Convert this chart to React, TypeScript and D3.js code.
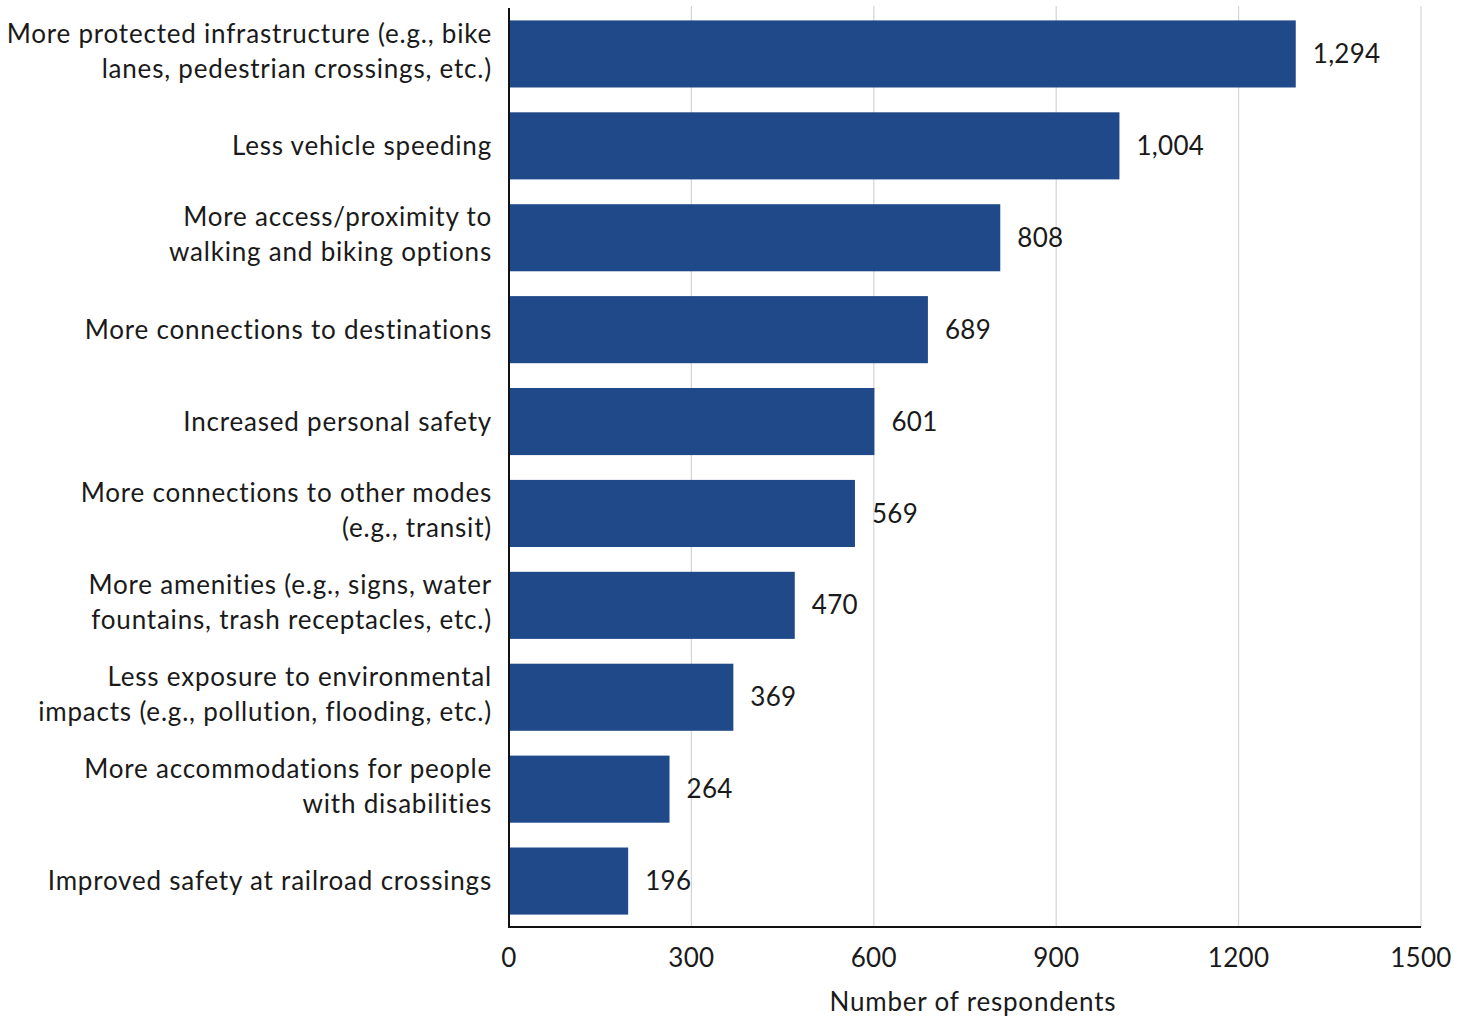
import React, { useEffect, useRef } from 'react';
import * as d3 from 'd3';

// label lines as they wrap in the original
const categories = [
  ['More protected infrastructure (e.g., bike', 'lanes, pedestrian crossings, etc.)'],
  ['Less vehicle speeding'],
  ['More access/proximity to', 'walking and biking options'],
  ['More connections to destinations'],
  ['Increased personal safety'],
  ['More connections to other modes', '(e.g., transit)'],
  ['More amenities (e.g., signs, water', 'fountains, trash receptacles, etc.)'],
  ['Less exposure to environmental', 'impacts (e.g., pollution, flooding, etc.)'],
  ['More accommodations for people', 'with disabilities'],
  ['Improved safety at railroad crossings'],
];
const values = [1294, 1004, 808, 689, 601, 569, 470, 369, 264, 196];
const xTicks = [0, 300, 600, 900, 1200, 1500];
const xTitle = 'Number of respondents';

const App = () => {
  const ref = useRef(null);

  useEffect(() => {
    const svg = d3.select(ref.current);
    svg.selectAll('*').remove();

    const W = 1465, H = 1019;
    const left = 509, right = 1421, top = 8, bottom = 927;
    const font = 'Lato, "Open Sans", sans-serif';
    const fs = 26;
    const ls = '0.8px';

    svg.attr('width', W).attr('height', H);

    const x = d3.scaleLinear().domain([0, 1500]).range([left, right]);
    const y = d3.scaleBand<number>()
      .domain(d3.range(values.length))
      .range([top, bottom])
      .paddingInner(0.27)
      .paddingOuter(0.135);

    // gridlines
    svg.append('g')
      .selectAll('line')
      .data(xTicks.filter(t => t > 0))
      .enter().append('line')
      .attr('x1', d => x(d)).attr('x2', d => x(d))
      .attr('y1', 6).attr('y2', bottom)
      .attr('stroke', '#d4d4d4')
      .attr('stroke-width', 1.2);

    // bars
    svg.append('g')
      .selectAll('rect')
      .data(values)
      .enter().append('rect')
      .attr('x', x(0))
      .attr('y', (d, i) => y(i))
      .attr('width', d => x(d) - x(0))
      .attr('height', y.bandwidth())
      .attr('fill', '#20498a');

    // value labels
    svg.append('g')
      .selectAll('text')
      .data(values)
      .enter().append('text')
      .attr('x', d => x(d) + 17)
      .attr('y', (d, i) => y(i) + y.bandwidth() / 2)
      .attr('dy', '0.35em')
      .attr('font-family', font)
      .attr('font-size', fs)
      .attr('letter-spacing', '0.3px')
      .attr('fill', '#1a1a1a')
      .text(d => d3.format(',')(d));

    // category labels
    const lineH = 35;
    const labels = svg.append('g')
      .selectAll('text')
      .data(categories)
      .enter().append('text')
      .attr('text-anchor', 'end')
      .attr('font-family', font)
      .attr('font-size', fs)
      .attr('letter-spacing', ls)
      .attr('fill', '#1a1a1a');
    labels.each(function (lines, i) {
      const cy = y(i) + y.bandwidth() / 2 - (lines.length > 1 ? 3 : 0);
      const t = d3.select(this);
      lines.forEach((ln, j) => {
        t.append('tspan')
          .attr('x', 492)
          .attr('y', cy + (j - (lines.length - 1) / 2) * lineH)
          .attr('dy', '0.35em')
          .text(ln);
      });
    });

    // axes lines
    svg.append('line')
      .attr('x1', left).attr('x2', left)
      .attr('y1', top).attr('y2', bottom + 1)
      .attr('stroke', '#111').attr('stroke-width', 2);
    svg.append('line')
      .attr('x1', left - 1).attr('x2', right)
      .attr('y1', bottom).attr('y2', bottom)
      .attr('stroke', '#111').attr('stroke-width', 2);

    // tick labels
    svg.append('g')
      .selectAll('text')
      .data(xTicks)
      .enter().append('text')
      .attr('x', d => x(d))
      .attr('y', 958)
      .attr('dy', '0.35em')
      .attr('text-anchor', 'middle')
      .attr('font-family', font)
      .attr('font-size', fs)
      .attr('letter-spacing', '0.3px')
      .attr('fill', '#1a1a1a')
      .text(d => d);

    svg.append('text')
      .attr('x', 973)
      .attr('y', 1002)
      .attr('dy', '0.35em')
      .attr('text-anchor', 'middle')
      .attr('font-family', font)
      .attr('font-size', fs)
      .attr('letter-spacing', ls)
      .attr('fill', '#1a1a1a')
      .text(xTitle);
  }, []);

  return (
    <div style={{ position: 'absolute', left: 0, top: 0, background: '#fff' }}>
      <svg ref={ref} style={{ display: 'block' }}></svg>
    </div>
  );
};

export default App;
